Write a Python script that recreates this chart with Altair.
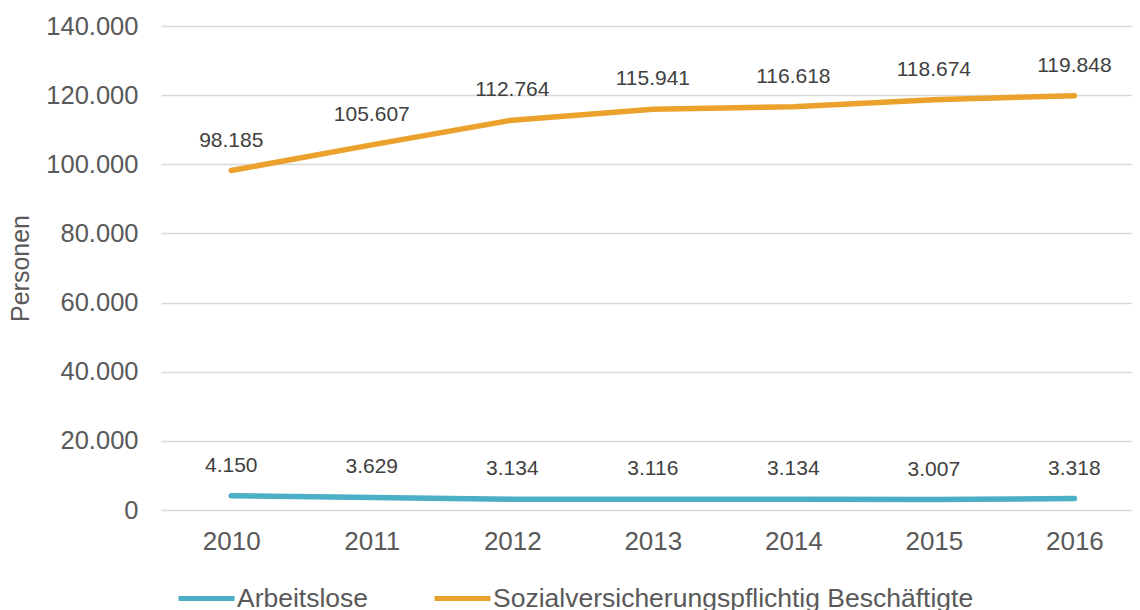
import altair as alt
import pandas as pd

years = [2010, 2011, 2012, 2013, 2014, 2015, 2016]
arbeitslose = [4150, 3629, 3134, 3116, 3134, 3007, 3318]
beschaeftigte = [98185, 105607, 112764, 115941, 116618, 118674, 119848]
series_names = ["Arbeitslose", "Sozialversicherungspflichtig Beschäftigte"]
series_colors = ["#4BAFC6", "#EBA22C"]
y_ticks = [0, 20000, 40000, 60000, 80000, 100000, 120000, 140000]

rows = []
for i, yr in enumerate(years):
    rows.append({"Jahr": yr, "Serie": series_names[0], "Wert": arbeitslose[i]})
    rows.append({"Jahr": yr, "Serie": series_names[1], "Wert": beschaeftigte[i]})
df = pd.DataFrame(rows)

x_enc = alt.X(
    "Jahr:Q",
    scale=alt.Scale(domain=[2009.5, 2016.41], nice=False, zero=False),
    axis=alt.Axis(
        values=years, format="d", title=None, grid=False, domain=False, ticks=False,
        labelFontSize=26, labelColor="#595959", labelPadding=18, labelFlush=False,
    ),
)
y_enc = alt.Y(
    "Wert:Q",
    scale=alt.Scale(domain=[0, 140000], nice=False),
    axis=alt.Axis(
        values=y_ticks, title="Personen", grid=True, gridColor="#D9D9D9", gridWidth=1.5,
        domain=False, ticks=False, labelFontSize=25.5, labelColor="#595959", labelPadding=23,
        labelExpr="replace(format(datum.value, ',d'), ',', '.')",
        titleFontSize=25, titleFontWeight="normal", titleColor="#595959",
        titleX=-133, titleY=242, titleAngle=270, titleAlign="center", titleBaseline="alphabetic",
    ),
)
color_enc = alt.Color(
    "Serie:N",
    scale=alt.Scale(domain=series_names, range=series_colors),
    legend=alt.Legend(
        title=None, orient="none", legendX=15, legendY=542, direction="horizontal",
        symbolType="stroke", symbolSize=3136, symbolStrokeWidth=5,
        labelFontSize=26.5, labelColor="#595959", labelOffset=0, labelLimit=700,
        columnPadding=55,
    ),
)

lines = alt.Chart(df).mark_line(strokeWidth=5.5, strokeCap="round", strokeJoin="round").encode(
    x=x_enc, y=y_enc, stroke=color_enc, detail="Serie:N"
)

labels = alt.Chart(df).transform_calculate(
    lbl="replace(format(datum.Wert, ',d'), ',', '.')"
).mark_text(fontSize=21, color="#404040", dy=-30, baseline="middle", align="center").encode(
    x=alt.X("Jahr:Q"), y=alt.Y("Wert:Q"), text="lbl:N"
)

chart = alt.layer(lines, labels).properties(
    width=971, height=484,
    autosize=alt.AutoSizeParams(type="none"),
    padding={"left": 153, "top": 18, "right": 0, "bottom": 100},
).configure(font="Liberation Sans").configure_view(stroke=None)

chart.save("out.html", embed_options={"renderer": "svg", "actions": False})
